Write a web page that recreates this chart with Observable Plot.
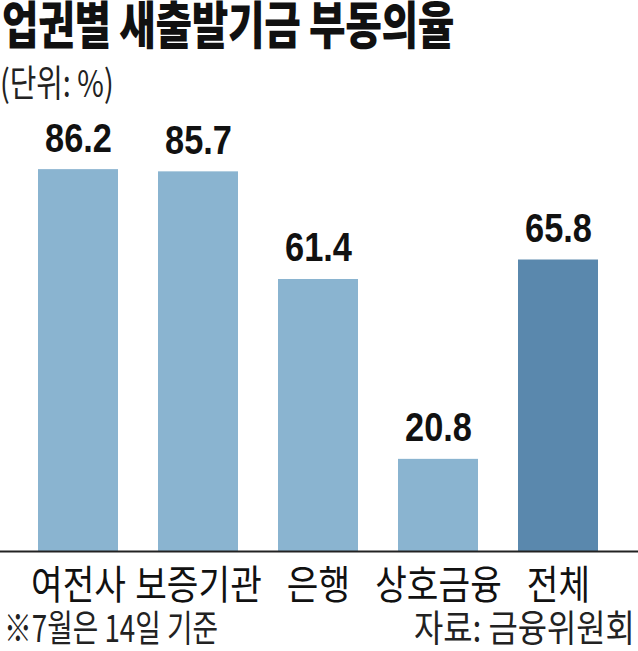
<!DOCTYPE html>
<html><head><meta charset="utf-8">
<script src="https://cdn.jsdelivr.net/npm/d3@7"></script>
<script src="https://cdn.jsdelivr.net/npm/@observablehq/plot@0.6"></script>
<style>
body{margin:0;background:#fff;width:638px;height:651px;position:relative;overflow:hidden;font-family:"Noto Sans CJK KR","Noto Sans",sans-serif;color:#111;}
.t{position:absolute;left:2px;top:-15px;font-size:51px;font-weight:900;transform:scaleX(0.78);transform-origin:left top;white-space:nowrap;letter-spacing:-0.5px}
.s{position:absolute;left:0;top:54px;font-size:37px;font-weight:400;transform:scaleX(0.78);transform-origin:left top;white-space:nowrap;color:#222}
#chart{position:absolute;left:0;top:108px}
.f{position:absolute;top:608px;font-size:37px;line-height:1;font-weight:400;white-space:nowrap;color:#222}
.fl{left:4px;transform:scaleX(0.75);transform-origin:left top}
.fr{right:3px;transform:scaleX(0.86);transform-origin:right top}
</style></head>
<body>
<div class="t">업권별 새출발기금 부동의율</div>
<div class="s">(단위: %)</div>
<div id="chart"></div>
<div class="f fl">※7월은 14일 기준</div>
<div class="f fr">자료: 금융위원회</div>
<script>
const categories = ["여전사","보증기관","은행","상호금융","전체"];
const values = [86.2, 85.7, 61.4, 20.8, 65.8];
const labels = ["86.2","85.7","61.4","20.8","65.8"];
const data = categories.map((c,i)=>({cat:c, v:values[i], label:labels[i], total: c==="전체"}));

const chart = Plot.plot({
  width: 638, height: 495,
  marginLeft: 17, marginRight: 18, marginTop: 0, marginBottom: 52,
  x: {domain: categories, paddingInner: 0.33, paddingOuter: 0.167, axis: null},
  y: {domain: [0, 100], axis: null},
  style: {background: "transparent"},
  marks: [
    Plot.barY(data, {x: "cat", y: "v", fill: d => d.total ? "#5a88ad" : "#8ab4d0"}),
    Plot.ruleY([0], {stroke: "#222", strokeWidth: 2, insetLeft: -17, insetRight: -18}),
    Plot.text(data, {x: "cat", y: "v", text: "label", lineAnchor: "bottom", dy: -18,
      fontSize: 40, fontWeight: 700, fontFamily: "Liberation Sans, Arial, sans-serif", fill: "#111",
      className: "val"}),
    Plot.text(data, {x: "cat", y: 0, text: "cat", lineAnchor: "middle", dy: 35,
      fontSize: 40, fontWeight: 400, fontFamily: "Noto Sans CJK KR, sans-serif", fill: "#111", className: "cat"})
  ]
});
document.getElementById("chart").appendChild(chart);
function squeeze(sel, k){
  d3.select(chart).selectAll(sel).each(function(){
    const t = this.getAttribute("transform") || "";
    this.setAttribute("transform", t + ` scale(${k},1)`);
  });
}
squeeze(".cat text", 0.86);
squeeze(".val text", 0.86);
</script>
</body></html>
